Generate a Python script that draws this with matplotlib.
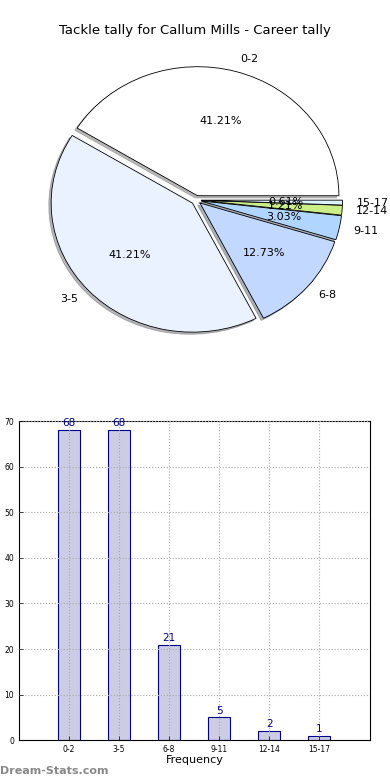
import matplotlib
matplotlib.use("Agg")
import matplotlib.pyplot as plt
import numpy as np

categories = ["0-2", "3-5", "6-8", "9-11", "12-14", "15-17"]
counts = [68, 68, 21, 5, 2, 1]
pie_colors = ["#FFFFFF", "#EBF2FF", "#C3D8FF", "#B0D6FF", "#CCEE88", "#DDF2FF"]

BAR_FACE = "#CCCCE4"
BAR_EDGE = "#00008B"

fig = plt.figure(figsize=(3.9, 7.8), dpi=100)
fig.patch.set_facecolor("white")

# ---- pie (slightly squashed, like the original) ----
axP = fig.add_axes([0.068, 0.545, 0.87, 0.397])
wedges, texts, autotexts = axP.pie(
    counts, labels=categories, colors=pie_colors, autopct="%.2f%%",
    startangle=0, explode=[0.035] * len(counts),
    shadow={"ox": -0.012, "oy": -0.012, "shade": 0.55},
    wedgeprops={"edgecolor": "black", "linewidth": 0.6},
    textprops={"fontsize": 8})
axP.set_aspect("auto")
axP.set_xlim(-1.2, 1.2)
axP.set_ylim(-1.2, 1.2)
fig.text(0.5, 0.961, "Tackle tally for Callum Mills - Career tally",
         ha="center", va="center", fontsize=9.5)

# ---- bars ----
axB = fig.add_axes([0.049, 0.051, 0.900, 0.409])
x = np.arange(len(categories))
axB.bar(x, counts, 0.45, color=BAR_FACE, edgecolor=BAR_EDGE, linewidth=0.8, zorder=2)
for xi, v in zip(x, counts):
    axB.text(xi, v + 0.4, str(v), ha="center", va="bottom", fontsize=7.5,
             color=BAR_EDGE, zorder=4)
axB.set_xlim(-1, 6.02)
axB.set_ylim(0, 70)
axB.set_yticks(np.arange(0, 71, 10))
axB.set_xticks(x)
axB.set_xticklabels(categories)
axB.tick_params(axis="both", labelsize=5.5, direction="in", length=3, width=0.5)
axB.grid(True, linestyle=":", color="#AAAAAA", linewidth=0.8, zorder=3)
axB.set_axisbelow(False)
axB.set_xlabel("Frequency", fontsize=8, labelpad=1)
for s in axB.spines.values():
    s.set_linewidth(0.8)

fig.text(0.0, 0.012, "Dream-Stats.com", ha="left", va="center",
         fontsize=8, color="#888888", weight="bold")

fig.savefig("out.png", dpi=100)
